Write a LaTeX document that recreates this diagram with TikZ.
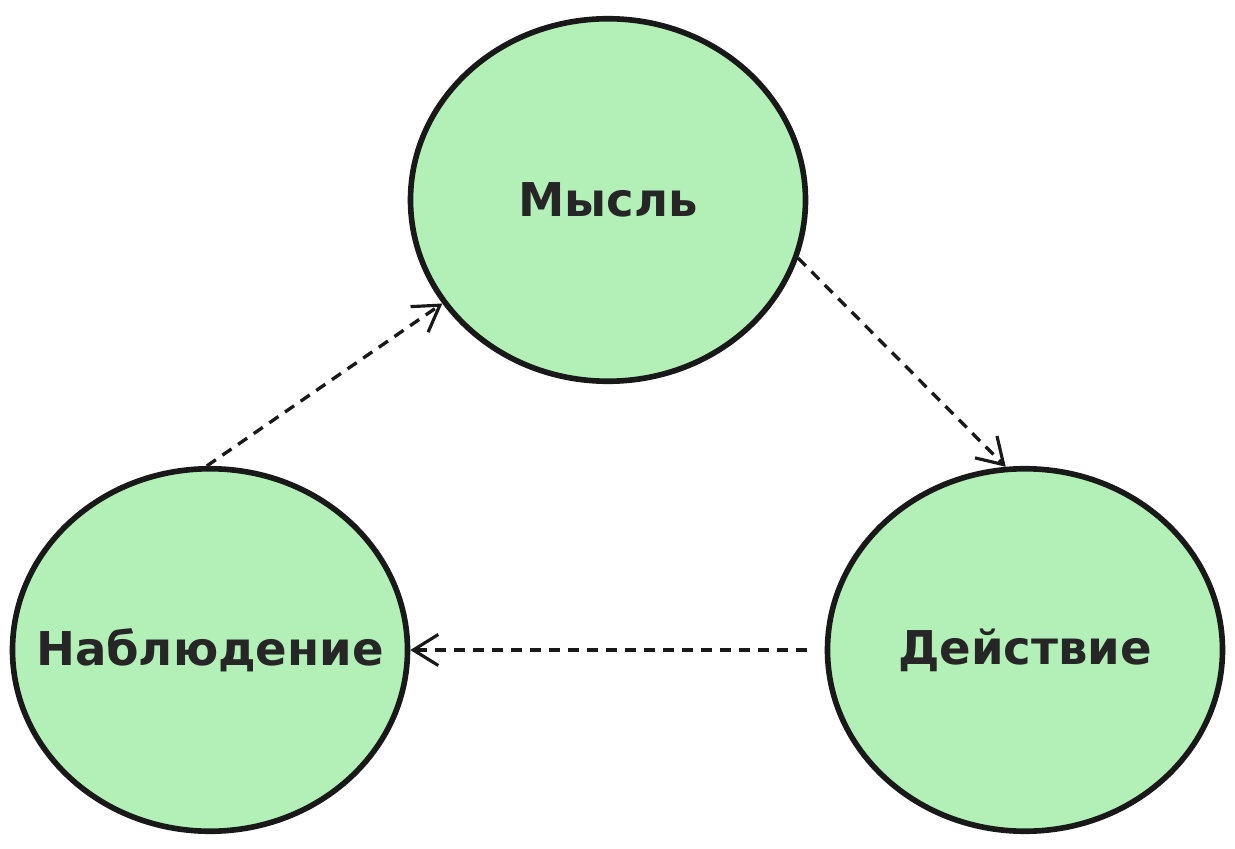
\documentclass[tikz,border=0pt]{standalone}
\usepackage{tikz}
\usetikzlibrary{arrows.meta}
\usepackage{xcolor}
\usepackage{fontspec}
\setmainfont{DejaVu Sans}
\definecolor{stagegreen}{HTML}{B3F0B8}
\tikzstyle{stage}=[ellipse, draw=black!90, line width=3.2pt, fill=stagegreen, minimum width=7.9cm, minimum height=7.25cm, inner xsep=-1cm, inner ysep=0pt, text=black!85, font=\fontsize{26.5}{32}\selectfont\bfseries]
\tikzstyle{flow}=[black!90, line width=1.9pt, dash pattern=on 0.22cm off 0.16cm, -{Straight Barb[length=0.5cm, width=0.62cm, line width=1.8pt]}]
\newcommand{\stage}{\node[stage]}
\usetikzlibrary{shapes.geometric}

\begin{document}
\begin{tikzpicture}
\useasboundingbox (0,0) rectangle (24.7,16.96);
\stage (thought) at (12.16,12.96) {Мысль};
\stage (observation) at (4.2,3.96) {Наблюдение};
\stage (action) at (20.5,3.96) {Действие};
\draw[flow] (thought.-17) -- (action.96);
\draw[flow, shorten <=0.36cm] (action.west) -- (observation.east);
\draw[flow] (observation.91) -- (thought.212);
\end{tikzpicture}
\end{document}
